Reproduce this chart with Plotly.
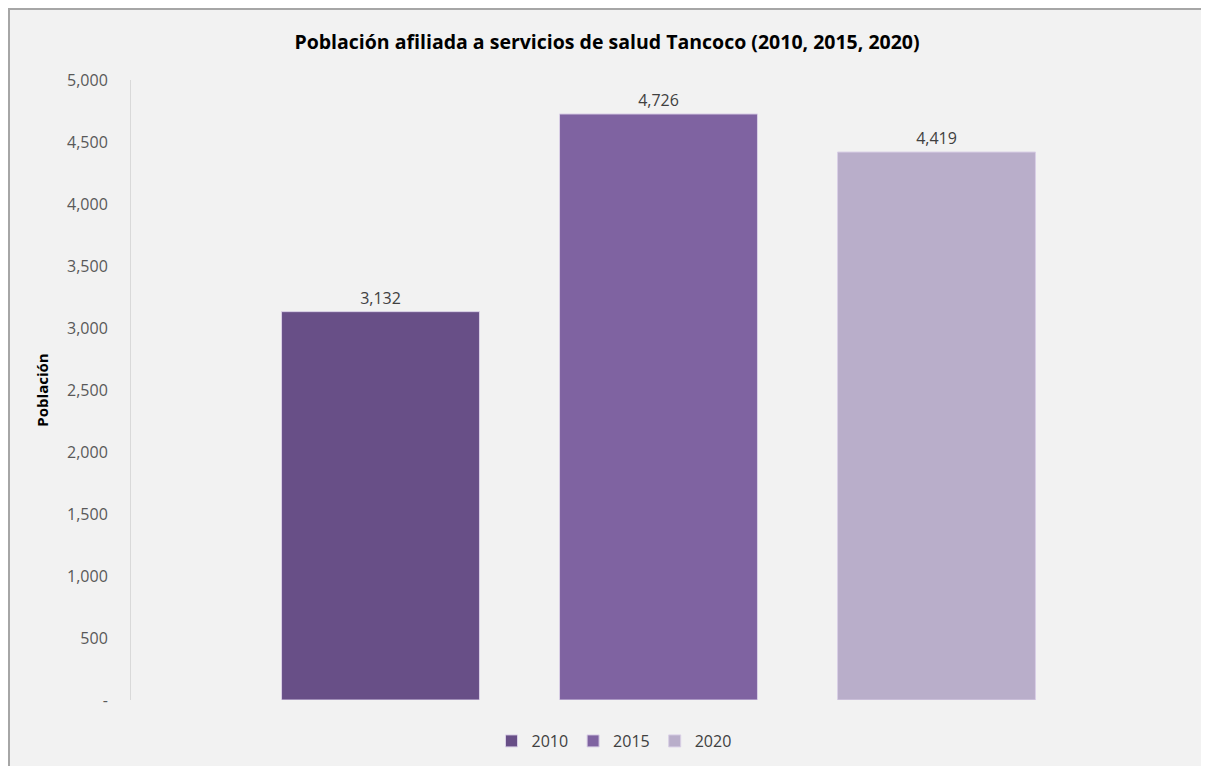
import plotly.graph_objects as go

categories = ["Tancoco"]
years = ["2010", "2015", "2020"]
values = [3132, 4726, 4419]
colors = ["#684f87", "#7f63a1", "#b9aeca"]
tick_vals = [0, 500, 1000, 1500, 2000, 2500, 3000, 3500, 4000, 4500, 5000]
tick_text = ["-", "500", "1,000", "1,500", "2,000", "2,500", "3,000", "3,500", "4,000", "4,500", "5,000"]

W, H = 1209, 766
L, R, T, B = 123, 31, 72, 74
PW, PH = W - L - R, H - T - B

fig = go.Figure()
for yr, v, c in zip(years, values, colors):
    fig.add_trace(go.Bar(
        name=yr, x=categories, y=[v],
        marker=dict(color=c, line=dict(color="#d9cfe6", width=1)),
        text=[f"{v:,}"], textposition="outside",
        textfont=dict(size=16, color="#404040", family="Open Sans, sans-serif"),
        cliponaxis=False,
    ))

fig.update_layout(
    width=W, height=H,
    paper_bgcolor="white", plot_bgcolor="#f2f2f2",
    barmode="group", bargap=0.2095, bargroupgap=0.288,
    margin=dict(l=L, r=R, t=T, b=B, autoexpand=False),
    title=dict(text="<b>Población afiliada a servicios de salud Tancoco (2010, 2015, 2020)</b>",
               x=599 / W, xref="container", xanchor="center", y=1 - 34 / H, yref="container",
               yanchor="middle",
               font=dict(size=19.5, color="#000000", family="Open Sans, sans-serif")),
    font=dict(family="Open Sans, sans-serif", color="#595959"),
    showlegend=True,
    legend=dict(orientation="h", x=606 / W, xref="container", xanchor="center",
                y=33 / H, yref="container", yanchor="middle",
                font=dict(size=16, color="#404040"), bgcolor="rgba(0,0,0,0)",
                itemwidth=30, traceorder="normal"),
    shapes=[dict(type="rect", xref="paper", yref="paper",
                 x0=-(L - 1) / PW, x1=(1200 - L) / PW, y0=-(B + 20) / PH, y1=1 + (T - 1) / PH,
                 line=dict(color="#a6a6a6", width=2), fillcolor="#f2f2f2", layer="below")],
)
fig.update_xaxes(showticklabels=False, showline=False, showgrid=False, zeroline=False)
fig.update_yaxes(range=[0, 5000], tickvals=tick_vals, ticktext=tick_text, automargin=False,
                 showgrid=False, zeroline=False, showline=True, linecolor="#d9d9d9", linewidth=1,
                 ticks="", ticklabelstandoff=19,
                 tickfont=dict(size=16, color="#595959"),
                 title=dict(text="<b>Población</b>", font=dict(size=15, color="#000000"), standoff=14))

fig.write_html("out.html")
